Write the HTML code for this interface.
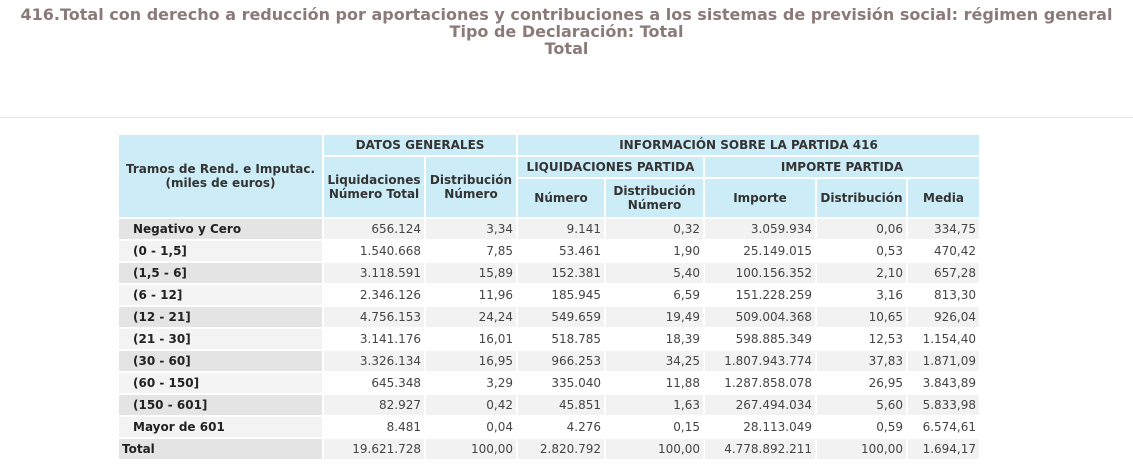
<!DOCTYPE html>
<html><head><meta charset="utf-8">
<style>
body{margin:0;width:1133px;height:471px;background:#fff;overflow:hidden;font-family:"DejaVu Sans",Verdana,sans-serif}
.t{position:absolute;left:0;width:1133px;text-align:center;color:#8a7a78;font-weight:bold;font-size:16px;line-height:17px}
#hr{position:absolute;left:0;top:117px;width:1133px;height:1px;background:#e4e4e4}
table{position:absolute;left:117px;top:133px;border-collapse:separate;border-spacing:2px;table-layout:fixed;font-size:12px;color:#444}
td,th{padding:0 3px;white-space:nowrap;overflow:hidden}
th{background:#ccedf7;color:#333;font-weight:bold;text-align:center;line-height:14px}
tr.h1 th,tr.h2 th{height:20px}
tr.h3 th{height:38px}
td{height:20px;text-align:right;line-height:20px}
td.l{text-align:left;padding-left:14px;font-weight:bold;color:#222}
tr.o td{background:#f2f2f2}
tr.o td.l{background:#e4e4e4}
tr.e td{background:#fff}
tr.e td.l{background:#f3f3f3}
tr.tot td.l{padding-left:3px}
</style></head><body>
<div class="t" style="top:6px">416.Total con derecho a reducción por aportaciones y contribuciones a los sistemas de previsión social: régimen general</div>
<div class="t" style="top:23px">Tipo de Declaración: Total</div>
<div class="t" style="top:40px">Total</div>
<div id="hr"></div>
<table>
<colgroup><col style="width:203px"><col style="width:100px"><col style="width:90px"><col style="width:86px"><col style="width:97px"><col style="width:110px"><col style="width:89px"><col style="width:71px"></colgroup>
<tr class="h1"><th rowspan="3">Tramos de Rend. e Imputac.<br>(miles de euros)</th><th colspan="2">DATOS GENERALES</th><th colspan="5">INFORMACIÓN SOBRE LA PARTIDA 416</th></tr>
<tr class="h2"><th rowspan="2">Liquidaciones<br>Número Total</th><th rowspan="2">Distribución<br>Número</th><th colspan="2">LIQUIDACIONES PARTIDA</th><th colspan="3">IMPORTE PARTIDA</th></tr>
<tr class="h3"><th>Número</th><th>Distribución<br>Número</th><th>Importe</th><th>Distribución</th><th>Media</th></tr>
<tbody id="tb"></tbody>
</table>
<script>
const rowLabels=["Negativo y Cero","(0 - 1,5]","(1,5 - 6]","(6 - 12]","(12 - 21]","(21 - 30]","(30 - 60]","(60 - 150]","(150 - 601]","Mayor de 601","Total"];
const liquidaciones=["656.124","1.540.668","3.118.591","2.346.126","4.756.153","3.141.176","3.326.134","645.348","82.927","8.481","19.621.728"];
const distNumero=["3,34","7,85","15,89","11,96","24,24","16,01","16,95","3,29","0,42","0,04","100,00"];
const numeroPartida=["9.141","53.461","152.381","185.945","549.659","518.785","966.253","335.040","45.851","4.276","2.820.792"];
const distPartida=["0,32","1,90","5,40","6,59","19,49","18,39","34,25","11,88","1,63","0,15","100,00"];
const importe=["3.059.934","25.149.015","100.156.352","151.228.259","509.004.368","598.885.349","1.807.943.774","1.287.858.078","267.494.034","28.113.049","4.778.892.211"];
const distImporte=["0,06","0,53","2,10","3,16","10,65","12,53","37,83","26,95","5,60","0,59","100,00"];
const media=["334,75","470,42","657,28","813,30","926,04","1.154,40","1.871,09","3.843,89","5.833,98","6.574,61","1.694,17"];
const tb=document.getElementById('tb');
rowLabels.forEach((lab,i)=>{
  const tr=document.createElement('tr');
  tr.className=(i%2===0?'o':'e')+(i===rowLabels.length-1?' tot':'');
  
  
  const vals=[lab,liquidaciones[i],distNumero[i],numeroPartida[i],distPartida[i],importe[i],distImporte[i],media[i]];
  vals.forEach((v,j)=>{
    const td=document.createElement('td');
    if(j===0)td.className='l';
    td.textContent=v;
    
    
    tr.appendChild(td);
  });
  tb.appendChild(tr);
});
</script>
</body></html>
